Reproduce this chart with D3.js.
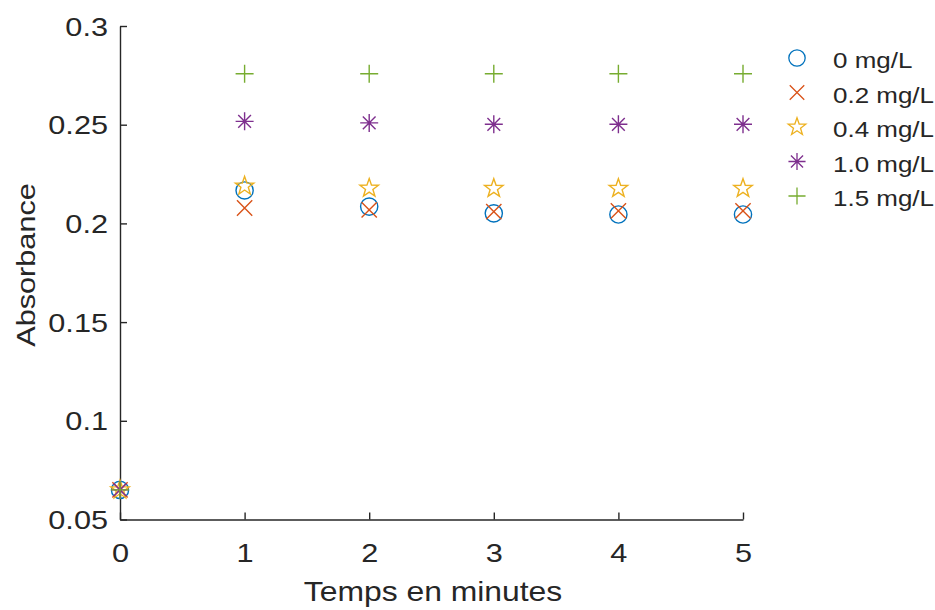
<!DOCTYPE html>
<html>
<head>
<meta charset="utf-8">
<script src="https://cdn.jsdelivr.net/npm/d3@7"></script>
<style>
  html, body { margin: 0; padding: 0; background: #fff; }
  svg { display: block; }
  text { font-family: "Liberation Sans", Arial, Helvetica, sans-serif; fill: #262626; }
</style>
</head>
<body>
<svg id="chart" width="935" height="610"></svg>
<script>
// ---- data ----
const times = [0, 1, 2, 3, 4, 5];
const seriesNames = ["0 mg/L", "0.2 mg/L", "0.4 mg/L", "1.0 mg/L", "1.5 mg/L"];
const conc0  = [0.065, 0.2167, 0.2085, 0.2051, 0.2045, 0.2045];
const conc02 = [0.065, 0.2078, 0.2068, 0.2060, 0.2063, 0.2063];
const conc04 = [0.065, 0.2189, 0.2178, 0.2177, 0.2177, 0.2177];
const conc10 = [0.065, 0.2517, 0.2509, 0.2502, 0.2502, 0.2502];
const conc15 = [0.065, 0.2758, 0.2758, 0.2758, 0.2758, 0.2758];
const xTicks = [0, 1, 2, 3, 4, 5];
const yTicks = [0.05, 0.1, 0.15, 0.2, 0.25, 0.3];
const xLabel = "Temps en minutes";
const yLabel = "Absorbance";

// ---- styles ----
const colors = ["#0072BD", "#D95319", "#EDB120", "#7E2F8E", "#77AC30"];
const markers = ["circle", "cross", "star", "asterisk", "plus"];
const allSeries = [conc0, conc02, conc04, conc10, conc15];
const SX = 1.18; // horizontal text stretch
const axisColor = "#262626";

const svg = d3.select("#chart");
const x = d3.scaleLinear().domain([0, 5]).range([120, 743]);
const y = d3.scaleLinear().domain([0.05, 0.3]).range([519.5, 26]);

function markerPath(type, s) {
  const p = d3.path();
  if (type === "circle") {
    p.moveTo(s, 0); p.arc(0, 0, s, 0, 2 * Math.PI);
  } else if (type === "cross") {
    const a = s * 0.92;
    p.moveTo(-a, -a); p.lineTo(a, a); p.moveTo(-a, a); p.lineTo(a, -a);
  } else if (type === "plus") {
    p.moveTo(-s, 0); p.lineTo(s, 0); p.moveTo(0, -s); p.lineTo(0, s);
  } else if (type === "asterisk") {
    const a = s * 0.707;
    p.moveTo(-s, 0); p.lineTo(s, 0); p.moveTo(0, -s); p.lineTo(0, s);
    p.moveTo(-a, -a); p.lineTo(a, a); p.moveTo(-a, a); p.lineTo(a, -a);
  } else if (type === "star") {
    const R = s * 1.08, r = R * 0.4;
    for (let i = 0; i < 10; i++) {
      const ang = -Math.PI / 2 + i * Math.PI / 5;
      const rad = i % 2 === 0 ? R : r;
      const px = rad * Math.cos(ang), py = rad * Math.sin(ang);
      if (i === 0) p.moveTo(px, py); else p.lineTo(px, py);
    }
    p.closePath();
  }
  return p.toString();
}
const markerSize = { circle: 8.6, cross: 8.3, star: 9.0, asterisk: 9.0, plus: 9.0 };

// ---- axes ----
const yAxis = d3.axisLeft(y).tickValues(yTicks).tickSizeInner(-7).tickSizeOuter(0)
  .tickPadding(12).tickFormat(d => String(+d.toFixed(2)));
const gy = svg.append("g").attr("transform", "translate(120,0)").call(yAxis);
const xAxis = d3.axisBottom(x).tickValues(xTicks).tickSizeInner(-7).tickSizeOuter(0)
  .tickPadding(14).tickFormat(d3.format("d"));
const gx = svg.append("g").attr("transform", "translate(0,519.5)").call(xAxis);

[gx, gy].forEach(g => {
  g.select(".domain").attr("stroke", axisColor).attr("stroke-width", 1.4);
  g.selectAll(".tick line").attr("stroke", axisColor).attr("stroke-width", 1.4);
  g.selectAll(".tick text").attr("fill", axisColor).style("font-size", "26px")
    .style("font-family", "'Liberation Sans', Arial, sans-serif");
});
gy.selectAll(".tick text").attr("x", null).attr("dy", null)
  .attr("dominant-baseline", "central")
  .attr("transform", `translate(-12,0) scale(${SX},1)`);
gx.selectAll(".tick text").attr("y", null).attr("dy", null)
  .attr("transform", `translate(0,42) scale(${SX},1)`);

// axis labels
svg.append("text").attr("transform", `translate(433,601) scale(${SX},1)`)
  .attr("text-anchor", "middle").style("font-size", "27px").text(xLabel);
svg.append("text").attr("transform", `translate(35,265) rotate(-90) scale(${SX},1)`)
  .attr("text-anchor", "middle").style("font-size", "26px").text(yLabel);

// ---- points ----
allSeries.forEach((vals, si) => {
  const g = svg.append("g");
  g.selectAll("path").data(times.map((t, i) => [t, vals[i]])).join("path")
    .attr("transform", d => `translate(${x(d[0])},${y(d[1])})`)
    .attr("d", markerPath(markers[si], markerSize[markers[si]]))
    .attr("fill", "none").attr("stroke", colors[si]).attr("stroke-width", 1.4);
});

// ---- legend ----
const lg = svg.append("g");
seriesNames.forEach((name, i) => {
  const cy = 58 + i * 34.5;
  lg.append("path").attr("transform", `translate(797,${cy})`)
    .attr("d", markerPath(markers[i], markerSize[markers[i]] * 0.95))
    .attr("fill", "none").attr("stroke", colors[i]).attr("stroke-width", 1.3);
  lg.append("text").attr("transform", `translate(833,${cy + 10}) scale(${SX},1)`)
    .style("font-size", "22px").text(name);
});
</script>
</body>
</html>
